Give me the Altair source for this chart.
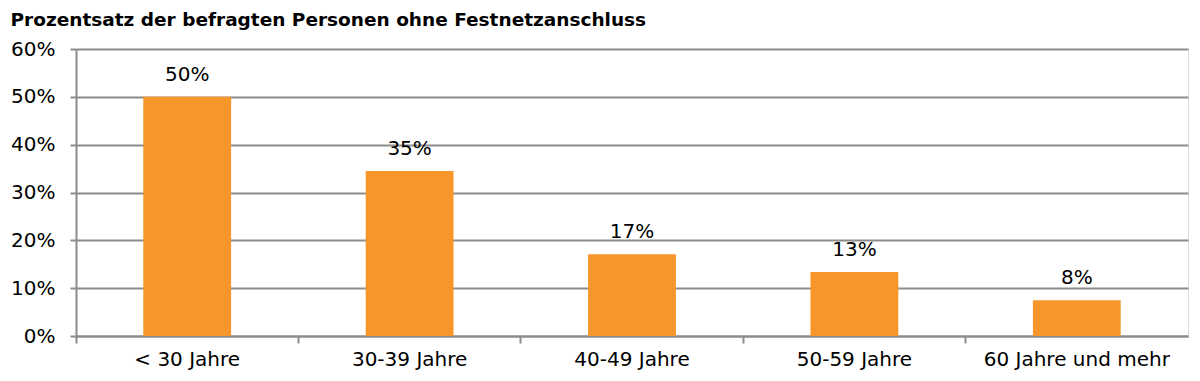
import altair as alt
import pandas as pd

categories = ["< 30 Jahre", "30-39 Jahre", "40-49 Jahre", "50-59 Jahre", "60 Jahre und mehr"]
values = [0.50, 0.345, 0.171, 0.134, 0.075]
labels = ["50%", "35%", "17%", "13%", "8%"]

df = pd.DataFrame({"Alter": categories, "Anteil": values, "Label": labels})

FONT = "DejaVu Sans"
GRID = "#8c8c8c"

x = alt.X("Alter:N", sort=categories, title=None,
          scale=alt.Scale(paddingInner=0, paddingOuter=0),
          axis=alt.Axis(labelAngle=0, labelFontSize=20, labelFont=FONT, labelColor="#000",
                        labelLimit=0, labelPadding=6, tickSize=7, tickColor=GRID, tickWidth=2,
                        domainColor=GRID, domainWidth=2, bandPosition=0, grid=False))
y = alt.Y("Anteil:Q", title=None,
          scale=alt.Scale(domain=[0, 0.6]),
          axis=alt.Axis(format=".0%", values=[0, 0.1, 0.2, 0.3, 0.4, 0.5, 0.6],
                        labelFontSize=20, labelFont=FONT, labelColor="#000",
                        labelPadding=15, tickSize=6, tickColor=GRID, tickWidth=2,
                        domainColor=GRID, domainWidth=2,
                        grid=True, gridColor=GRID, gridWidth=2))

bars = alt.Chart(df).mark_bar(color="#F7962B", width=alt.RelativeBandSize(0.395)).encode(x=x, y=y)
text = alt.Chart(df).mark_text(dy=-22, fontSize=20, font=FONT, color="#000").encode(
    x=alt.X("Alter:N", sort=categories), y="Anteil:Q", text="Label:N")

chart = (bars + text).properties(
    width=1112, height=287,
    title=alt.TitleParams("Prozentsatz der befragten Personen ohne Festnetzanschluss",
                          anchor="start", font=FONT, fontSize=18.5, fontWeight="bold",
                          color="#000", offset=10),
).configure_view(stroke=None).configure(padding={"left": 2, "top": 2, "right": 2, "bottom": 2})

chart.save("out.html", embed_options={"renderer": "svg", "actions": False})
